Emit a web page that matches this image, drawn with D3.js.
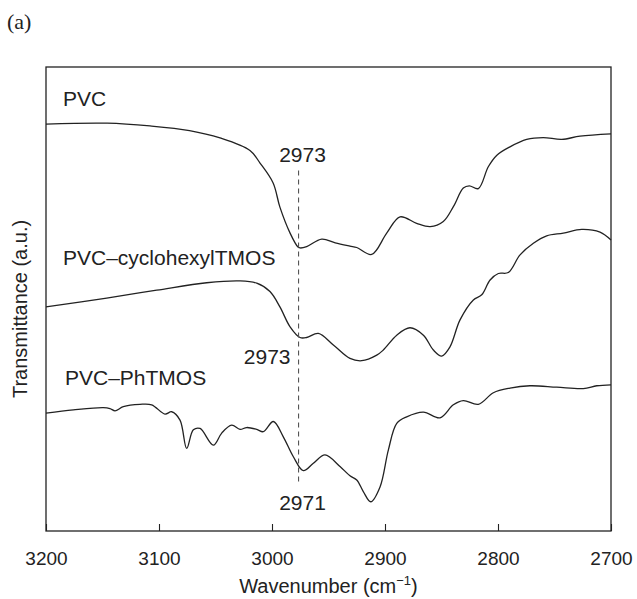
<!DOCTYPE html>
<html><head><meta charset="utf-8">
<script src="https://cdn.jsdelivr.net/npm/d3@7"></script>
<style>body{margin:0;background:#fff;} text{font-family:"Liberation Sans",Arial,Helvetica,sans-serif;fill:#222;}</style>
</head><body><svg id="c" width="637" height="599"></svg>
<script>
// x-axis ticks
const xTicks = [3200, 3100, 3000, 2900, 2800, 2700];
const seriesNames = ["PVC", "PVC–cyclohexylTMOS", "PVC–PhTMOS"];
// PVC
const pvcW = [3200,3146,3108,3073,3046,3019.5,3010.6,2999,2993,2984,2977,2975,2969.3,2956,2944,2931,2925,2911.8,2898.5,2886.7,2872,2860,2848.4,2839.5,2830.7,2825.4,2817.4,2808.6,2801,2789.4,2774.6,2760,2743.6,2727.4,2700];
const pvcT = [87.7,87.9,87.3,86.3,84.7,82.0,79.3,75.0,69.8,64.2,61.2,61.0,61.3,62.9,62.1,61.4,61.1,59.6,64.2,67.7,66.3,65.6,66.7,69.9,73.9,74.4,73.8,78.5,81.0,82.8,84.4,84.8,84.4,85.1,85.6];
// PVC–cyclohexylTMOS
const cycW = [3200,3146.3,3102,3057.8,3028.3,3013.5,3001.8,2993,2984,2975.2,2969.3,2959,2945.7,2931,2920.6,2907.3,2901.5,2889.6,2877.9,2866,2857.2,2849.8,2842.5,2833.6,2821.8,2814.4,2807,2799.7,2790.9,2780.5,2768.7,2756.9,2742.2,2725.9,2709.7,2700];
const cycT = [48.3,50.2,51.9,53.5,53.9,53.4,51.6,48.3,44.0,41.7,41.7,42.6,40.1,37.2,36.7,37.9,39.0,42.2,43.8,42.2,39.0,37.7,39.7,45.5,49.8,50.9,54.1,55.5,55.7,59.5,62.0,63.6,64.2,65.0,64.4,62.7];
// PVC–PhTMOS
const phW = [3200,3175.8,3149.3,3143.4,3138.9,3131.6,3116.8,3106.5,3094.7,3088.8,3081.4,3075.5,3069.6,3063.7,3051.9,3044.5,3035.7,3028.3,3022.4,3013.5,3007.7,2998.8,2990,2981.1,2972.3,2963.4,2953.1,2939.8,2931,2925,2919.2,2912.6,2904.4,2897,2889.6,2880.8,2866,2851.3,2839.5,2830.7,2817.4,2804.1,2789.4,2771.7,2748,2724.5,2712.6,2700];
const phT = [25.4,26.1,26.6,26.4,25.9,26.8,27.3,27.2,25.2,25.7,23.9,17.8,21.8,22.1,18.5,21.1,22.8,21.9,22.3,21.9,21.4,23.6,20.3,16.0,13.0,14.6,16.4,13.9,11.9,11.0,8.5,6.3,9.5,17.5,23.2,24.6,25.6,24.4,27.2,28.1,27.3,29.8,30.8,31.3,31.0,30.7,31.3,31.5];
// annotations
const markLine = {w: 2976.5, top: 77.7, bottom: 10.3};
const peakLabels = ["2973", "2973", "2971"];

const svg = d3.select("#c");
const L = 46, R = 611, T = 67, B = 531;
const x = d3.scaleLinear().domain([3200, 2700]).range([L, R]);
const y = d3.scaleLinear().domain([0, 100]).range([B, T]);

// frame
svg.append("rect").attr("x", L).attr("y", T).attr("width", R - L).attr("height", B - T)
  .attr("fill", "none").attr("stroke", "#222").attr("stroke-width", 1.3);

// x axis with inward ticks
const ax = svg.append("g").attr("transform", `translate(0,${B})`)
  .call(d3.axisBottom(x).tickValues(xTicks).tickSizeInner(-7).tickSizeOuter(0).tickPadding(21).tickFormat(d3.format("d")));
ax.select(".domain").remove();
ax.selectAll("line").attr("stroke", "#222").attr("stroke-width", 1.1);
ax.selectAll("text").style("font-family", "Liberation Sans, Arial, sans-serif").style("font-size", "19px").attr("fill", "#222");

// axis titles
const xt = svg.append("text").attr("x", (L + R) / 2).attr("y", 593).attr("text-anchor", "middle").style("font-size", "20px");
xt.append("tspan").text("Wavenumber (cm");
xt.append("tspan").attr("dy", -8).style("font-size", "13px").text("−1");
xt.append("tspan").attr("dy", 8).text(")");
svg.append("text").attr("transform", "translate(27,309) rotate(-90)").attr("text-anchor", "middle")
  .style("font-size", "20px").text("Transmittance (a.u.)");

// panel letter
svg.append("text").attr("x", 7).attr("y", 29).style("font-family", "Liberation Serif, Times New Roman, serif")
  .style("font-size", "22px").text("(a)");

// curves
const line = d3.line().x(d => x(d[0])).y(d => y(d[1])).curve(d3.curveCatmullRom.alpha(0.5));
[[pvcW, pvcT], [cycW, cycT], [phW, phT]].forEach(([w, t]) => {
  svg.append("path").datum(w.map((v, i) => [v, t[i]])).attr("d", line)
    .attr("fill", "none").attr("stroke", "#222").attr("stroke-width", 1.3);
});

// dashed marker line
svg.append("line").attr("x1", x(markLine.w)).attr("x2", x(markLine.w))
  .attr("y1", y(markLine.top)).attr("y2", y(markLine.bottom))
  .attr("stroke", "#555").attr("stroke-width", 1.1).attr("stroke-dasharray", "5,4");

// series labels
const lab = [[63, 106], [63, 265], [65, 385]];
seriesNames.forEach((n, i) => {
  svg.append("text").attr("x", lab[i][0]).attr("y", lab[i][1]).style("font-size", "21px").text(n);
});
// peak labels
const mx = x(markLine.w);
svg.append("text").attr("x", mx + 4).attr("y", 162).attr("text-anchor", "middle").style("font-size", "21px").text(peakLabels[0]);
svg.append("text").attr("x", mx - 8).attr("y", 364).attr("text-anchor", "end").style("font-size", "21px").text(peakLabels[1]);
svg.append("text").attr("x", mx + 4).attr("y", 510).attr("text-anchor", "middle").style("font-size", "21px").text(peakLabels[2]);
</script></body></html>
